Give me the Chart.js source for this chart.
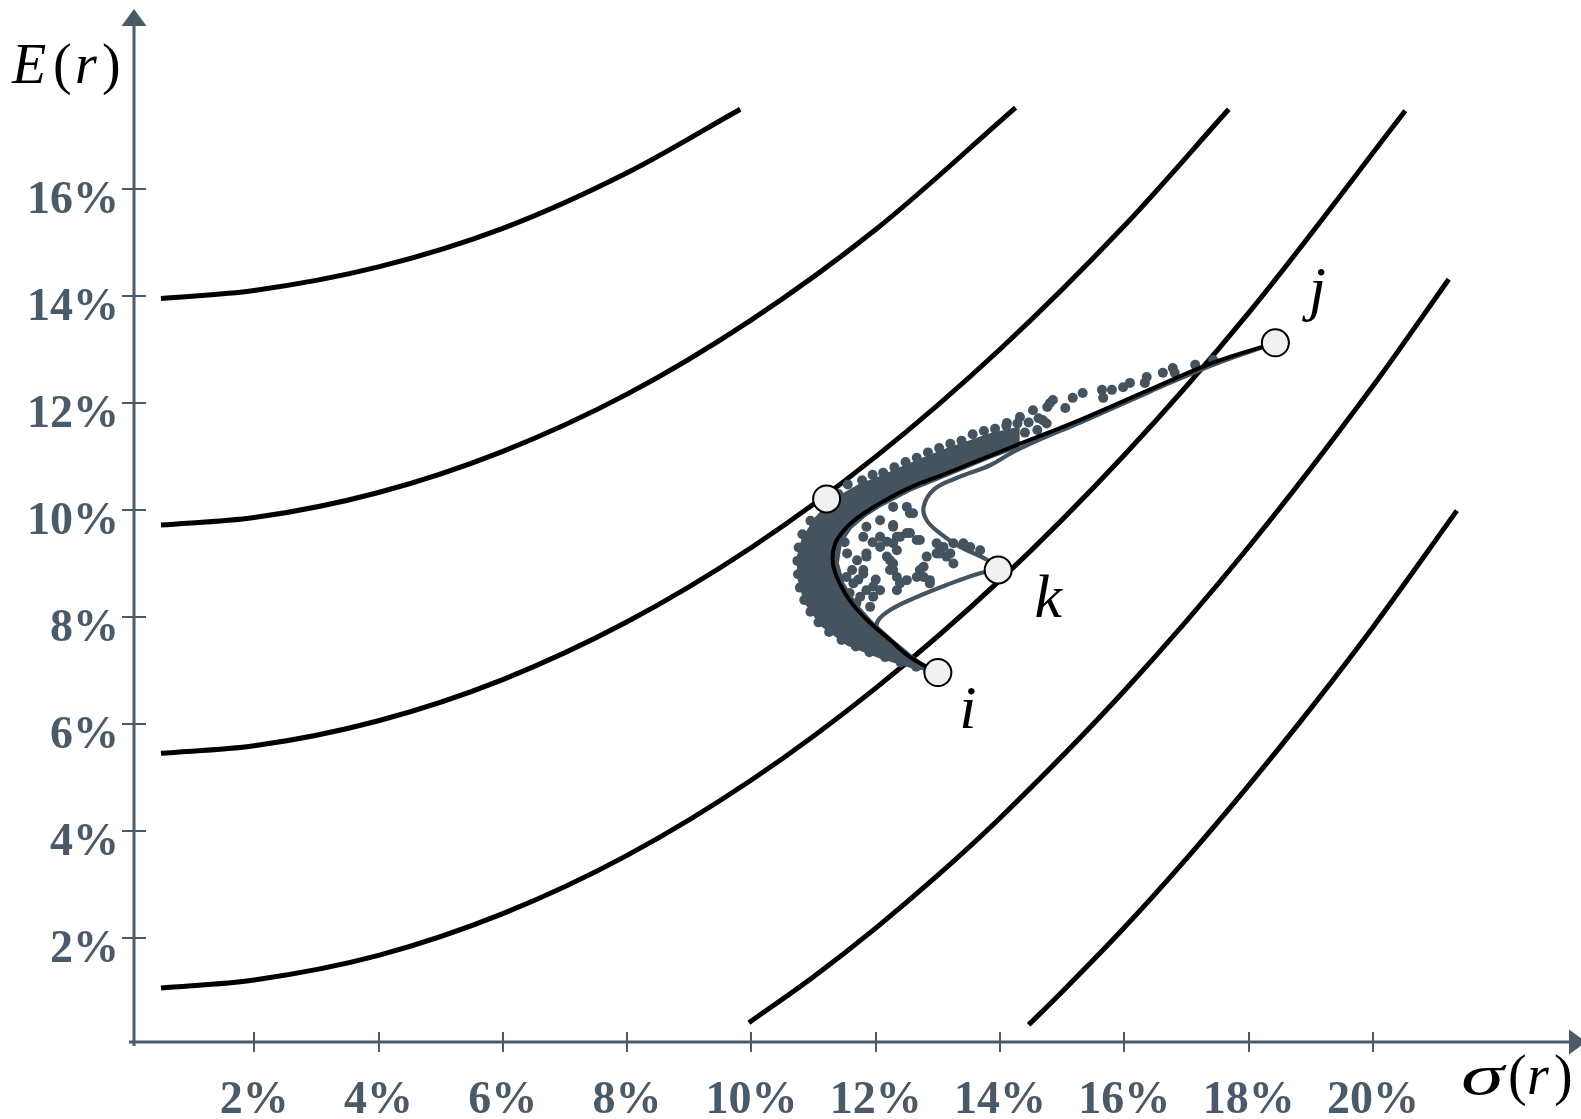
<!DOCTYPE html>
<html>
<head>
<meta charset="utf-8">
<script src="https://cdn.jsdelivr.net/npm/chart.js@4.4.1/dist/chart.umd.min.js"></script>
<style>
  html, body { margin: 0; padding: 0; background: #ffffff; }
  #wrap { width: 1581px; height: 1119px; }
</style>
</head>
<body>
<div id="wrap"><canvas id="c" width="1581" height="1119"></canvas></div>
<script>
// ---------- tick labels ----------
const sigmaTicks = [2, 4, 6, 8, 10, 12, 14, 16, 18, 20];
const returnTicks = [2, 4, 6, 8, 10, 12, 14, 16];

// ---------- indifference curves  [sigma %, E(r) %] ----------
const curve1 = [[0.5,13.96],[2,14.11],[4,14.55],[6,15.27],[8,16.31],[9.82,17.50]];
const curve2 = [[0.5,9.72],[2,9.86],[4,10.33],[6,11.10],[8,12.17],[10,13.56],[12,15.25],[14.25,17.53]];
const curve3 = [[0.5,5.45],[2,5.59],[4,6.06],[6,6.83],[8,7.91],[10,9.30],[12,11.00],[14,13.01],[16,15.32],[17.68,17.50]];
const curve4 = [[0.5,1.06],[2,1.21],[4,1.67],[6,2.45],[8,3.54],[10,4.95],[12,6.67],[14,8.69],[16,11.03],[18,13.69],[20.52,17.47]];
const curve5 = [[9.96,0.41],[11,1.27],[12,2.18],[13,3.17],[14,4.24],[16,6.62],[18,9.31],[20,12.32],[21.22,14.32]];
const curve6 = [[14.46,0.37],[15,0.99],[16,2.19],[17,3.48],[18,4.85],[19,6.29],[20,7.81],[21.35,9.99]];

// ---------- frontiers ----------
const frontierIJ = [[13.00,6.96],[12.55,7.25],[12.23,7.57],[11.90,7.90],[11.62,8.25],[11.42,8.63],[11.31,9.01],[11.35,9.38],[11.55,9.70],[11.82,9.95],[12.07,10.13],[12.55,10.42],[13.14,10.69],[14.21,11.19],[15.29,11.69],[16.40,12.25],[17.43,12.76],[18.43,13.13]];
const frontierIK = [[13.97,8.88],[13.68,8.82],[13.14,8.60],[12.61,8.35],[12.23,8.13],[12.04,7.94],[12.02,7.76],[12.15,7.50],[12.50,7.22],[13.00,6.96]];
const frontierKJ = [[13.97,8.88],[13.79,9.07],[13.36,9.31],[13.03,9.57],[12.82,9.81],[12.77,10.06],[12.93,10.38],[13.30,10.60],[13.84,10.84],[14.20,11.08],[14.60,11.30],[15.29,11.64],[16.40,12.21],[17.43,12.72],[18.43,13.13]];

// ---------- portfolios (dense cloud outline + individual portfolios) ----------
const denseRegion = [[12.95,6.98],[12.58,7.06],[12.07,7.24],[11.55,7.48],[11.12,7.85],[10.86,8.28],[10.76,8.70],[10.74,9.10],[10.82,9.45],[11.03,9.85],[11.30,10.18],[11.75,10.48],[12.07,10.62],[12.50,10.84],[13.14,11.14],[13.84,11.42],[14.30,11.54],[14.30,11.18],[13.84,10.98],[13.14,10.64],[12.55,10.36],[12.07,10.07],[11.82,9.88],[11.60,9.66],[11.44,9.38],[11.39,9.01],[11.48,8.63],[11.68,8.25],[11.95,7.90],[12.28,7.56],[12.60,7.25],[12.95,6.98]];
const edgePortfolios = [[11.15,10.05],[10.95,9.80],[10.82,9.55],[10.76,9.30],[10.74,9.05],[10.75,8.80],[10.78,8.55],[10.85,8.32],[10.95,8.10],[11.08,7.90],[11.25,7.72],[11.45,7.57],[11.68,7.45],[11.90,7.34],[12.15,7.25],[12.40,7.15],[12.65,7.07],[12.85,7.00]];
const upperPortfolios = [[11.40,10.30],[11.55,10.48],[11.78,10.56],[11.95,10.66],[12.12,10.70],[12.30,10.80],[12.48,10.90],[12.66,10.98],[12.84,11.08],[13.02,11.16],[13.20,11.24],[13.38,11.30],[13.56,11.42],[13.74,11.48],[13.92,11.52],[14.10,11.58],[14.28,11.62],[14.46,11.64],[14.62,11.72],[12.00,10.50],[12.40,10.70],[12.80,10.90],[13.20,11.05],[13.60,11.22],[14.00,11.36],[14.40,11.45],[14.60,11.50],[14.75,11.62],[14.11,11.63],[14.32,11.74],[14.53,11.87],[14.80,12.00],[14.69,11.68],[14.76,11.93],[14.85,12.06],[15.05,11.91],[15.17,12.10],[15.33,12.19],[15.64,12.25],[15.66,12.10],[15.80,12.25],[15.98,12.30],[16.09,12.38],[16.33,12.38],[16.36,12.49],[16.62,12.57],[16.78,12.66],[16.81,12.57],[17.14,12.72],[17.43,12.81]];
const innerPortfolios = [[11.54,9.19],[11.70,9.06],[11.62,8.88],[11.53,8.75],[11.64,8.63],[11.80,8.88],[11.85,9.19],[11.80,9.50],[12.07,9.50],[12.18,9.41],[12.34,9.50],[12.50,9.57],[12.66,9.44],[12.34,9.25],[12.23,9.06],[12.28,8.88],[12.34,8.75],[12.50,8.69],[12.34,8.50],[12.07,8.50],[11.85,8.50],[11.75,8.38],[11.96,8.38],[11.61,8.26],[12.71,8.88],[12.82,9.13],[12.98,9.19],[13.14,9.13],[13.25,9.00],[13.03,9.31],[12.87,8.63],[12.66,8.75],[12.07,9.81],[12.28,9.72],[12.50,10.06],[12.60,9.94],[11.69,8.26],[11.91,8.19],[12.18,9.13],[11.85,9.69],[12.28,10.06],[12.55,9.94],[12.28,9.69],[12.39,9.50],[12.55,9.57],[12.71,9.44],[12.98,9.38],[13.09,9.31],[13.25,9.38],[13.03,9.19],[13.20,9.19],[12.77,8.94],[12.77,8.75],[12.87,8.69],[12.28,9.00],[12.23,8.88],[11.85,9.13],[11.80,8.81],[11.96,8.57],[12.39,8.63],[13.52,9.31],[13.68,9.25],[13.41,9.38],[12.28,9.38],[12.07,9.31],[11.50,9.40],[11.58,8.45],[11.72,8.70],[11.95,9.40],[12.00,8.70]];

// ---------- assets and optimal portfolio ----------
const assetNames = ['i', 'j', 'k'];
const assetPoints = [[13.00,6.96],[18.43,13.13],[13.97,8.88]];
const optimalPoint = [[11.21,10.21]];

// ---------- styling ----------
const AXIS = '#4b5a68';
const DOT = '#45535f';
const SERIF = '"Liberation Serif", "Times New Roman", serif';
const toXY = arr => arr.map(p => ({x: p[0], y: p[1]}));

const curveSet = (data) => ({
  data: toXY(data), showLine: true, borderColor: '#000', borderWidth: 5,
  pointRadius: 0, tension: 0.4, cubicInterpolationMode: 'monotone', fill: false, order: 6
});

const datasets = [
  curveSet(curve1), curveSet(curve2), curveSet(curve3),
  curveSet(curve4), curveSet(curve5), curveSet(curve6),
  { data: toXY(denseRegion), showLine: true, borderColor: DOT, borderWidth: 2,
    backgroundColor: DOT, fill: 'shape', pointRadius: 0, tension: 0, order: 5 },
  { data: toXY(edgePortfolios.concat(upperPortfolios, innerPortfolios)), showLine: false,
    pointRadius: 5, pointBackgroundColor: DOT, pointBorderWidth: 0, order: 4 },
  { data: toXY(frontierIK), showLine: true, borderColor: DOT, borderWidth: 4.2, pointRadius: 0, tension: 0.4, fill: false, order: 3 },
  { data: toXY(frontierKJ), showLine: true, borderColor: DOT, borderWidth: 4.2, pointRadius: 0, tension: 0.4, fill: false, order: 3 },
  { data: toXY(frontierIJ), showLine: true, borderColor: '#000', borderWidth: 4, pointRadius: 0, tension: 0.4, fill: false, order: 2 },
  { data: toXY(assetPoints.concat(optimalPoint)), showLine: false, pointRadius: 13.5,
    pointBackgroundColor: '#f0f0f0', pointBorderColor: '#000', pointBorderWidth: 2, order: 1, clip: false }
];

const axesPlugin = {
  id: 'axesPlugin',
  beforeDatasetsDraw(chart) {
    const ctx = chart.ctx, xs = chart.scales.x, ys = chart.scales.y;
    const x0 = chart.chartArea.left, y0 = chart.chartArea.bottom;
    ctx.save();
    ctx.strokeStyle = AXIS; ctx.fillStyle = AXIS;
    ctx.lineWidth = 3;
    ctx.beginPath(); ctx.moveTo(x0, y0 + 4); ctx.lineTo(x0, 24); ctx.stroke();
    ctx.beginPath(); ctx.moveTo(x0, 9); ctx.lineTo(x0 - 12.5, 26); ctx.lineTo(x0 + 12.5, 26); ctx.closePath(); ctx.fill();
    ctx.beginPath(); ctx.moveTo(x0 - 5, y0); ctx.lineTo(1571, y0); ctx.stroke();
    ctx.beginPath(); ctx.moveTo(1586, y0); ctx.lineTo(1569, y0 - 12.5); ctx.lineTo(1569, y0 + 12.5); ctx.closePath(); ctx.fill();
    ctx.lineWidth = 2;
    sigmaTicks.forEach(v => {
      const px = Math.round(xs.getPixelForValue(v));
      ctx.beginPath(); ctx.moveTo(px, y0 - 10); ctx.lineTo(px, y0 + 10); ctx.stroke();
    });
    returnTicks.forEach(v => {
      const py = Math.round(ys.getPixelForValue(v));
      ctx.beginPath(); ctx.moveTo(x0 - 12, py); ctx.lineTo(x0 + 12, py); ctx.stroke();
    });
    ctx.restore();
  },
  afterDraw(chart) {
    const ctx = chart.ctx, xs = chart.scales.x, ys = chart.scales.y;
    ctx.save();
    ctx.fillStyle = '#000';
    ctx.textBaseline = 'alphabetic';
    ctx.textAlign = 'left';
    // E(r)
    ctx.font = 'italic 56px ' + SERIF; ctx.fillText('E', 12, 83);
    ctx.font = '56px ' + SERIF; ctx.fillText('(', 53, 83);
    ctx.font = 'italic 56px ' + SERIF; ctx.fillText('r', 75, 83);
    ctx.font = '56px ' + SERIF; ctx.fillText(')', 102, 83);
    // sigma(r)
    ctx.save();
    ctx.translate(1461, 1094); ctx.scale(1.55, 1);
    ctx.font = 'italic 56px ' + SERIF; ctx.fillText('σ', 0, 0);
    ctx.restore();
    ctx.font = '56px ' + SERIF; ctx.fillText('(', 1508, 1094);
    ctx.font = 'italic 56px ' + SERIF; ctx.fillText('r', 1527, 1094);
    ctx.font = '56px ' + SERIF; ctx.fillText(')', 1554, 1094);
    // asset labels
    ctx.font = 'italic 62px ' + SERIF;
    ctx.textAlign = 'center';
    const offs = {i: [30, 55], j: [42, -34], k: [50, 47]};
    assetNames.forEach((n, idx) => {
      const p = assetPoints[idx];
      const px = xs.getPixelForValue(p[0]), py = ys.getPixelForValue(p[1]);
      ctx.fillText(n, px + offs[n][0], py + offs[n][1]);
    });
    ctx.restore();
  }
};

new Chart(document.getElementById('c'), {
  type: 'scatter',
  data: { datasets },
  options: {
    responsive: false, animation: false, devicePixelRatio: 1,
    layout: { padding: { top: 25, right: 16, left: 0, bottom: 0 } },
    plugins: { legend: { display: false }, tooltip: { enabled: false } },
    scales: {
      x: {
        type: 'linear', min: 0.066, max: 23.09,
        afterFit: s => { s.height = 77; s.paddingLeft = 0; s.paddingRight = 0; },
        afterBuildTicks: s => { s.ticks = sigmaTicks.map(v => ({ value: v })); },
        grid: { display: false, drawTicks: false }, border: { display: false },
        ticks: { autoSkip: false, maxRotation: 0, padding: 32, color: AXIS,
          font: { family: SERIF, size: 46, weight: 'bold' },
          callback: v => v + '%' }
      },
      y: {
        type: 'linear', min: 0.049, max: 19.076,
        afterFit: s => { s.width = 134; s.paddingTop = 0; s.paddingBottom = 0; },
        afterBuildTicks: s => { s.ticks = returnTicks.map(v => ({ value: v })); },
        grid: { display: false, drawTicks: false }, border: { display: false },
        ticks: { autoSkip: false, padding: 15, labelOffset: 12, color: AXIS,
          font: { family: SERIF, size: 46, weight: 'bold' },
          callback: v => v + '%' }
      }
    }
  },
  plugins: [axesPlugin]
});
</script>
</body>
</html>
